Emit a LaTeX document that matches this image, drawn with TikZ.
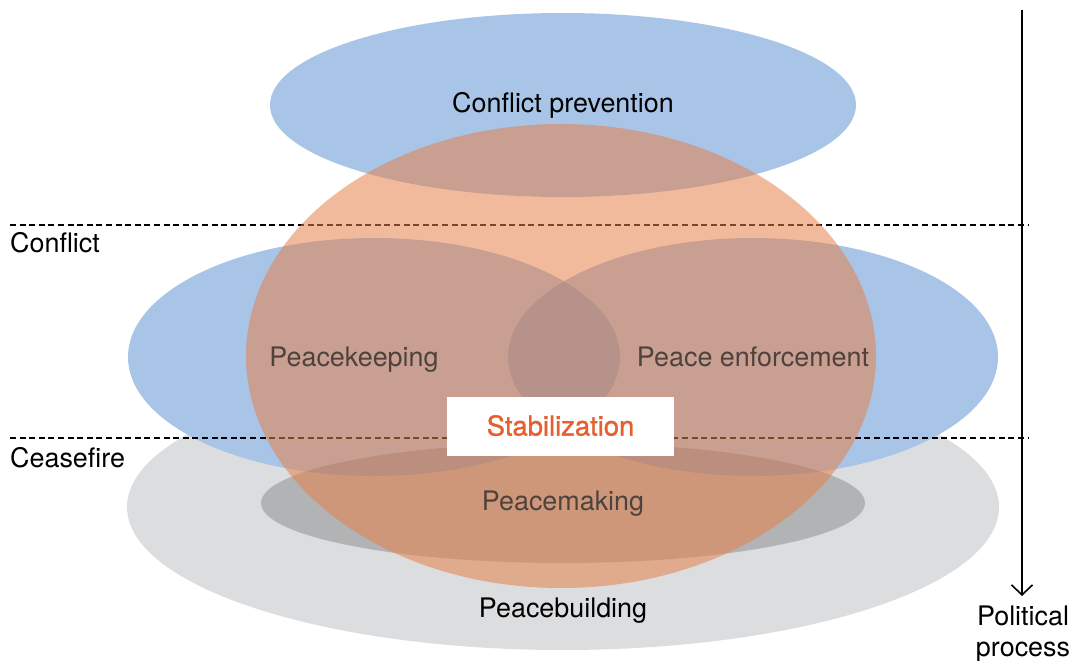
\documentclass[tikz,border=0pt]{standalone}
\usepackage{fontspec}
\setmainfont{TeX Gyre Heros}
\usetikzlibrary{arrows.meta}
\definecolor{zoneblue}{HTML}{A8C5E8}
\definecolor{lensblue}{HTML}{7EA7D8}
\definecolor{stabfill}{HTML}{E5814B}
\definecolor{outergray}{HTML}{DCDDDF}
\definecolor{stabink}{HTML}{E5602E}
\definecolor{dimink}{HTML}{4E423D}
\begin{document}
\begin{tikzpicture}[x=1bp,y=-1bp,
  txt/.style={font=\fontsize{27}{31}\selectfont, inner sep=0pt},
  lbl/.style={txt, text height=0.72em, text depth=0pt},
  phase/.style={line width=2bp, dash pattern=on 6bp off 3.6bp},
  stabbox/.style={lbl, fill=white, minimum width=227bp, minimum height=59bp, text=stabink,
    font=\fontsize{27.5}{31}\selectfont\addfontfeature{FakeBold=1.2}}]
\useasboundingbox (0,0) rectangle (1073,661);

% peacebuilding (outer gray)
\fill[outergray] (563,507) ellipse [x radius=436bp, y radius=143bp];

% peacekeeping and peace enforcement
\fill[zoneblue] (374,357) ellipse [x radius=246bp, y radius=119bp];
\fill[zoneblue] (753,357) ellipse [x radius=245bp, y radius=119bp];
\begin{scope}
  \clip (374,357) ellipse [x radius=246bp, y radius=119bp];
  \fill[lensblue] (753,357) ellipse [x radius=245bp, y radius=119bp];
\end{scope}

% conflict prevention
\fill[zoneblue] (563,105) ellipse [x radius=293bp, y radius=92bp];

% peacemaking (inner gray)
\fill[black, opacity=0.19] (563,503) ellipse [x radius=302bp, y radius=60bp];

% phase boundaries
\coordinate (cA) at (10,225);
\coordinate (cB) at (1028,225);
\coordinate (sA) at (10,438);
\coordinate (sB) at (1028,438);
\draw[phase] (cA) -- (cB);
\draw[phase] (sA) -- (sB);

% stabilization
\fill[stabfill, opacity=0.55] (561,356) ellipse [x radius=315bp, y radius=232bp];

% zone labels
\node[lbl] (prev) at (563,109) {Conflict prevention};
\node[lbl, text=dimink] (keep) at (354,363) {Peacekeeping};
\node[lbl, text=dimink] (enf) at (753,363) {Peace enforcement};
\node[lbl, text=dimink] (make) at (563,507) {Peacemaking};
\node[lbl] (build) at (563,614) {Peacebuilding};
\node[stabbox] (stab) at (560.5,426) {\raisebox{-6bp}{Stabilization}};

% phase labels
\node[lbl, anchor=west] (conf) at (10,249) {Conflict};
\node[lbl, anchor=west] (cease) at (10,464) {Ceasefire};

% political process arrow
\coordinate (pTop) at (1022,10);
\coordinate (pBot) at (1022,596);
\draw[line width=1.6bp, -{Straight Barb[length=10bp,width=21bp,line width=1.6bp]}] (pTop) -- (pBot);
\node[txt, align=center, anchor=north] (pol) at (1023,606) {Political\\process};
\end{tikzpicture}
\end{document}
